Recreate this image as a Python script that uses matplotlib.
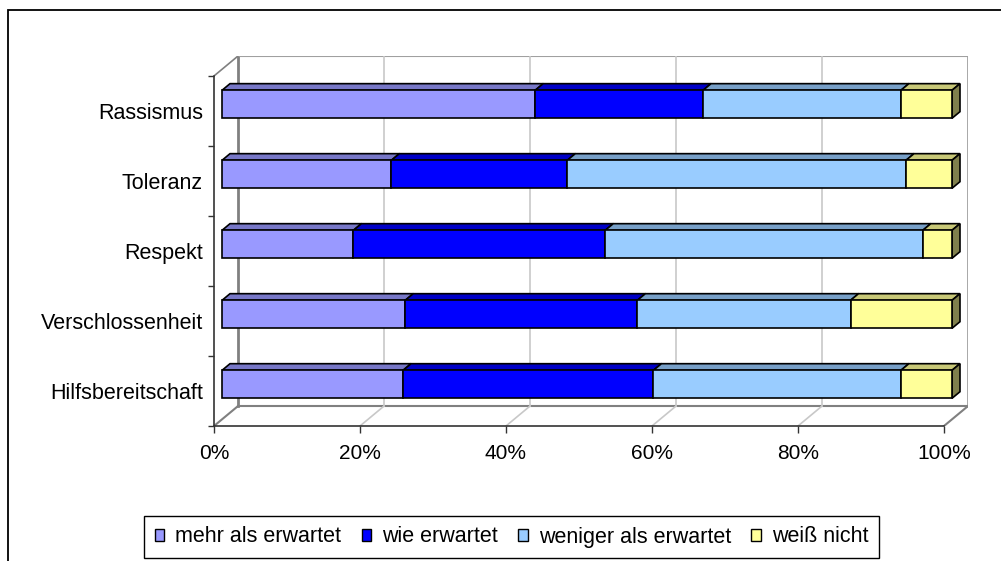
import matplotlib
matplotlib.use("Agg")
import matplotlib.pyplot as plt
from matplotlib.patches import Polygon, Rectangle, Patch
from matplotlib.colors import to_rgb

# Data, bottom category first
categories = ["Hilfsbereitschaft", "Verschlossenheit", "Respekt", "Toleranz", "Rassismus"]
series_names = ["mehr als erwartet", "wie erwartet", "weniger als erwartet", "weiß nicht"]
mehr = [24.8, 25.1, 18.0, 23.2, 42.9]
wie = [34.3, 31.8, 34.5, 24.1, 23.0]
weniger = [33.9, 29.2, 43.5, 46.4, 27.1]
weiss = [7.0, 13.9, 4.0, 6.3, 7.0]
x_ticks = [0, 20, 40, 60, 80, 100]
x_tick_labels = ["0%", "20%", "40%", "60%", "80%", "100%"]

colors = ["#9999FF", "#0000FF", "#99CCFF", "#FFFF99"]

# 3D look: depth of the plot box, in data units
DEPTH_X = 3.29
DEPTH_Y = 0.285
BAR_H = 0.4
FONT = "Liberation Sans"
FS = 15


def shade(c, f):
    r, g, b = to_rgb(c)
    return (r * f, g * f, b * f)


fig = plt.figure(figsize=(10.01, 5.61), dpi=100)
ax = fig.add_axes([214 / 1001, 135 / 561, 754 / 1001, 370 / 561])
ax.set_xlim(0, 100 + DEPTH_X)
ax.set_ylim(-0.5, len(categories) - 0.5 + DEPTH_Y)
ax.patch.set_visible(False)

# outer chart frame
fig.patches.append(Rectangle((8 / 1001, -0.1), 1.2, 1 - 10 / 561 + 0.1,
                             transform=fig.transFigure, fill=False,
                             ec="black", lw=1.3))

ymin, ymax = -0.5, len(categories) - 0.5

# back wall and floor
ax.plot([DEPTH_X, 100 + DEPTH_X], [ymin + DEPTH_Y] * 2, color="#808080", lw=1.5, zorder=1)
ax.plot([DEPTH_X, DEPTH_X], [ymin + DEPTH_Y, ymax + DEPTH_Y], color="#808080", lw=2, zorder=1)
ax.plot([DEPTH_X, 100 + DEPTH_X], [ymax + DEPTH_Y] * 2, color="#A0A0A0", lw=1.5, zorder=1)
ax.plot([100 + DEPTH_X] * 2, [ymin + DEPTH_Y, ymax + DEPTH_Y], color="#A0A0A0", lw=2, zorder=1)
ax.plot([0, DEPTH_X], [ymax, ymax + DEPTH_Y], color="#808080", lw=1.2, zorder=1)
for t in x_ticks:
    if 0 < t < 100:
        ax.plot([t + DEPTH_X] * 2, [ymin + DEPTH_Y, ymax + DEPTH_Y], color="#C8C8C8", lw=1.2, zorder=1)
        ax.plot([t, t + DEPTH_X], [ymin, ymin + DEPTH_Y], color="#C8C8C8", lw=1.2, zorder=1)
    else:
        ax.plot([t, t + DEPTH_X], [ymin, ymin + DEPTH_Y], color="#808080", lw=1.5, zorder=1)

# stacked 3D bars
series = [mehr, wie, weniger, weiss]
d1x, d1y = DEPTH_X / 3, DEPTH_Y / 3
d2x, d2y = 2 * DEPTH_X / 3, 2 * DEPTH_Y / 3
for i in range(len(categories)):
    left = 0
    bottom = i - BAR_H / 2
    top = i + BAR_H / 2
    for k, vals in enumerate(series):
        right = left + vals[i]
        c = colors[k]
        # top face
        ax.add_patch(Polygon([(left + d1x, top + d1y), (right + d1x, top + d1y),
                              (right + d2x, top + d2y), (left + d2x, top + d2y)],
                             closed=True, fc=shade(c, 0.78), ec="black", lw=1.2, zorder=3))
        # front face
        ax.add_patch(Rectangle((left + d1x, bottom + d1y), vals[i], BAR_H,
                               fc=c, ec="black", lw=1.2, zorder=4))
        left = right
    # right side of the last segment
    ax.add_patch(Polygon([(left + d1x, bottom + d1y), (left + d1x, top + d1y),
                          (left + d2x, top + d2y), (left + d2x, bottom + d2y)],
                         closed=True, fc=shade(colors[-1], 0.5), ec="black", lw=1.2, zorder=3))

# axes
for s in ["top", "right"]:
    ax.spines[s].set_visible(False)
ax.spines["left"].set_bounds(ymin, ymax)
ax.spines["bottom"].set_bounds(0, 100)
for s in ["left", "bottom"]:
    ax.spines[s].set_color("#333333")
    ax.spines[s].set_linewidth(1.2)

ax.set_xticks(x_ticks)
ax.set_xticklabels(x_tick_labels, fontsize=FS, family=FONT)
ax.tick_params(axis="x", direction="out", length=5, width=1, color="#333333", pad=8)

ax.set_yticks([y + 0.5 for y in range(-1, len(categories))])
ax.set_yticklabels([])
ax.set_yticks(range(len(categories)), minor=True)
ax.set_yticklabels(categories, minor=True, fontsize=15.5, family=FONT)
ax.tick_params(axis="y", which="major", direction="out", length=4.5, width=1, color="#333333")
ax.tick_params(axis="y", which="minor", length=0, pad=8)

# legend
handles = [Patch(fc=c, ec="black", lw=1) for c in colors]
fig.legend(handles, series_names, ncol=4, loc="center",
           bbox_to_anchor=(511.5 / 1001, 1 - 537 / 561),
           prop={"family": FONT, "size": 15.5}, frameon=True, fancybox=False,
           edgecolor="black", framealpha=1, handlelength=0.45, handleheight=0.45,
           handletextpad=0.5, columnspacing=0.95, borderpad=0.5)
fig.legends[0].get_frame().set_linewidth(1)

fig.savefig("out.png", dpi=100)
